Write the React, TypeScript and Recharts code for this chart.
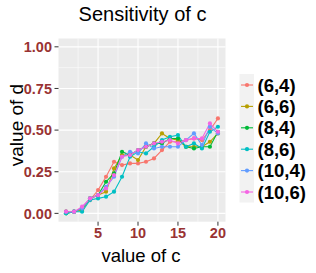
import React from 'react';
import { LineChart, Line, XAxis, YAxis, CartesianGrid } from 'recharts';

const cValues = [1, 2, 3, 4, 5, 6, 7, 8, 9, 10, 11, 12, 13, 14, 15, 16, 17, 18, 19, 20];
const seriesNames = ['(6,4)', '(6,6)', '(8,4)', '(8,6)', '(10,4)', '(10,6)'];
const seriesColors = ['#F8766D', '#B79F00', '#00BA38', '#00BFC4', '#619CFF', '#F564E3'];
const d64 = [0.01, 0.01, 0.03, 0.08, 0.14, 0.22, 0.31, 0.29, 0.30, 0.30, 0.31, 0.33, 0.38, 0.43, 0.43, 0.44, 0.45, 0.44, 0.50, 0.57];
const d66 = [0.01, 0.01, 0.02, 0.09, 0.11, 0.13, 0.27, 0.35, 0.35, 0.32, 0.40, 0.42, 0.48, 0.45, 0.44, 0.40, 0.40, 0.40, 0.43, 0.48];
const d84 = [0.00, 0.01, 0.03, 0.09, 0.11, 0.19, 0.24, 0.37, 0.35, 0.38, 0.40, 0.42, 0.42, 0.45, 0.45, 0.40, 0.39, 0.40, 0.40, 0.49];
const d86 = [0.00, 0.01, 0.01, 0.08, 0.09, 0.10, 0.13, 0.22, 0.34, 0.37, 0.36, 0.40, 0.44, 0.46, 0.47, 0.40, 0.42, 0.39, 0.49, 0.52];
const d104 = [0.01, 0.01, 0.03, 0.09, 0.11, 0.16, 0.22, 0.34, 0.37, 0.36, 0.42, 0.39, 0.40, 0.40, 0.40, 0.44, 0.48, 0.41, 0.52, 0.48];
const d106 = [0.01, 0.01, 0.04, 0.09, 0.11, 0.15, 0.23, 0.34, 0.35, 0.38, 0.40, 0.42, 0.43, 0.44, 0.42, 0.44, 0.45, 0.45, 0.54, 0.49];
const seriesValues = [d64, d66, d84, d86, d104, d106];

const xTicks = [5, 10, 15, 20];
const yTicks = [0, 0.25, 0.5, 0.75, 1];
const xMinor = [2.5, 7.5, 12.5, 17.5];
const yMinor = [0.125, 0.375, 0.625, 0.875];

const rows = cValues.map((c, i) => {
  const r: Record<string, number> = { c };
  seriesNames.forEach((n, k) => {
    r[n] = seriesValues[k][i];
  });
  return r;
});

const FONT = '"Liberation Sans", Arial, Helvetica, sans-serif';
const AXIS_COLOR = '#993333';

export default function App() {
  const legendTop = 85;
  const legendStep = 21.4;
  return (
    <div style={{ position: 'absolute', left: 0, top: 0, width: 316, height: 273, background: '#fff' }}>
      <LineChart
        width={316}
        height={273}
        data={rows}
        margin={{ top: 38.5, right: 90.5, bottom: 0, left: 0 }}
      >
        <CartesianGrid
          fill="#EBEBEB"
          stroke="#FFFFFF"
          strokeWidth={0.55}
          horizontalValues={yMinor}
          verticalValues={xMinor}
        />
        <CartesianGrid
          stroke="#FFFFFF"
          strokeWidth={1.1}
          horizontalValues={yTicks}
          verticalValues={xTicks}
        />
        <XAxis
          dataKey="c"
          type="number"
          domain={[0.05, 20.95]}
          ticks={xTicks}
          allowDataOverflow
          height={51.3}
          axisLine={false}
          tickLine={{ stroke: '#333333', strokeWidth: 1 }}
          tickSize={4}
          tickMargin={2.5}
          tick={{ fill: AXIS_COLOR, fontSize: 14.5, fontWeight: 'bold', fontFamily: FONT }}
        />
        <YAxis
          type="number"
          domain={[-0.05, 1.05]}
          ticks={yTicks}
          allowDataOverflow
          width={58.5}
          axisLine={false}
          tickLine={{ stroke: '#333333', strokeWidth: 1 }}
          tickSize={4}
          tickMargin={2.5}
          tickFormatter={(v: number) => v.toFixed(2)}
          tick={{ fill: AXIS_COLOR, fontSize: 14.5, fontWeight: 'bold', fontFamily: FONT }}
        />
        {seriesNames.map((n, k) => (
          <Line
            key={n}
            dataKey={n}
            type="linear"
            stroke={seriesColors[k]}
            strokeWidth={1.1}
            dot={{ r: 2.1, fill: seriesColors[k], stroke: seriesColors[k], strokeWidth: 0 }}
            isAnimationActive={false}
          />
        ))}
      </LineChart>
      <svg
        width={316}
        height={273}
        style={{ position: 'absolute', left: 0, top: 0, pointerEvents: 'none' }}
      >
        <text x={142.5} y={21} textAnchor="middle" fontFamily={FONT} fontSize={20} fill="#000">
          Sensitivity of c
        </text>
        <text x={141} y={262} textAnchor="middle" fontFamily={FONT} fontSize={18.5} fill="#000">
          value of c
        </text>
        <text
          x={0}
          y={0}
          transform="translate(23,125) rotate(-90)"
          textAnchor="middle"
          fontFamily={FONT}
          fontSize={19}
          fill="#000"
        >
          value of d
        </text>
        <rect x={239.5} y={74} width={14.5} height={128.5} fill="#F2F2F2" />
        {seriesNames.map((n, k) => {
          const y = legendTop + k * legendStep;
          return (
            <g key={n}>
              <line x1={241} x2={253} y1={y} y2={y} stroke={seriesColors[k]} strokeWidth={1.1} />
              <circle cx={247} cy={y} r={2.1} fill={seriesColors[k]} />
              <text x={257.5} y={y} dy="0.36em" fontFamily={FONT} fontSize={18.5} fontWeight="bold" fill="#000">
                {n}
              </text>
            </g>
          );
        })}
      </svg>
    </div>
  );
}
